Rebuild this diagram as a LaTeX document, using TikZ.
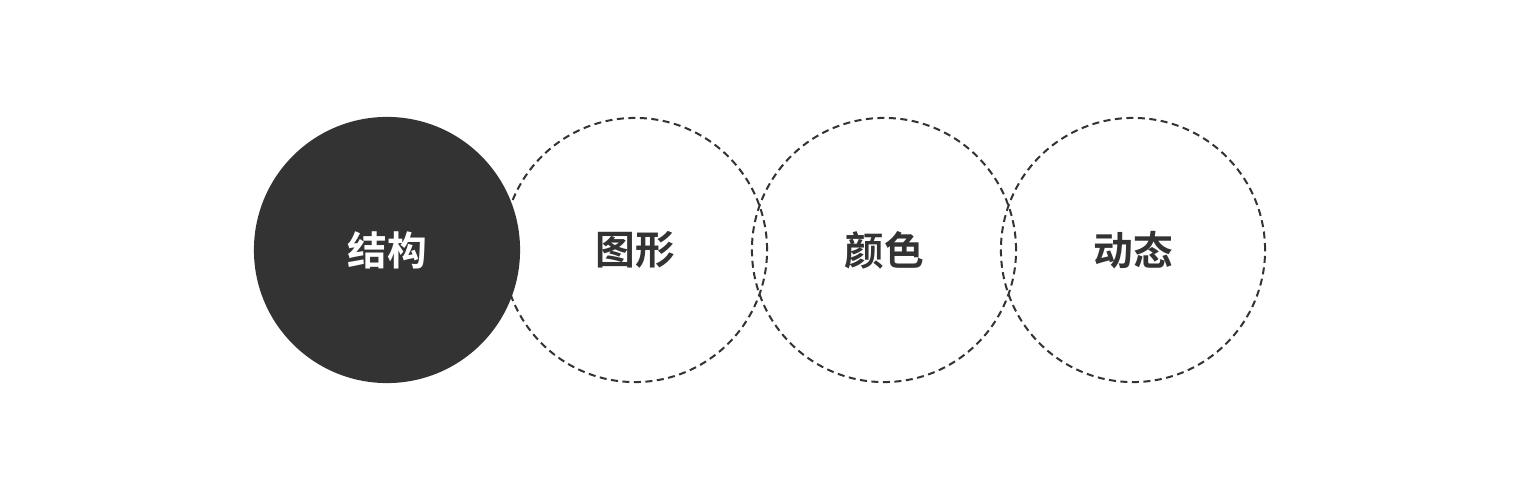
\documentclass[tikz,border=0pt]{standalone}
\usepackage{fontspec}
\newfontfamily\cjk{Noto Sans CJK SC}[BoldFont={Noto Sans CJK SC Bold}]
\definecolor{darkgr}{HTML}{333333}
\begin{document}
\begin{tikzpicture}[x=0.01cm,y=-0.01cm,
	dashring/.style={circle,draw=darkgr,line width=0.02cm,dash pattern=on 0.07cm off 0.045cm,minimum size=2.64cm,inner sep=0pt},
	fullring/.style={circle,fill=darkgr,minimum size=2.66cm,inner sep=0pt},
	word/.style={font=\cjk\bfseries\fontsize{11.3pt}{13pt}\selectfont}]
\useasboundingbox (0,0) rectangle (1520,500);

\node[dashring] (C2) at (635,250) {};
\node[dashring] (C3) at (884,250) {};
\node[dashring] (C4) at (1133,250) {};
\node[fullring] (C1) at (387,250) {};
%\draw[darkgr] (C1) -- (C4);

\node[word,text=white] (T1) at (C1) {结构};
\node[word,text=darkgr] (T2) at (C2) {图形};
\node[word,text=darkgr] (T3) at (C3) {颜色};
\node[word,text=darkgr] (T4) at (C4) {动态};
\end{tikzpicture}
\end{document}
